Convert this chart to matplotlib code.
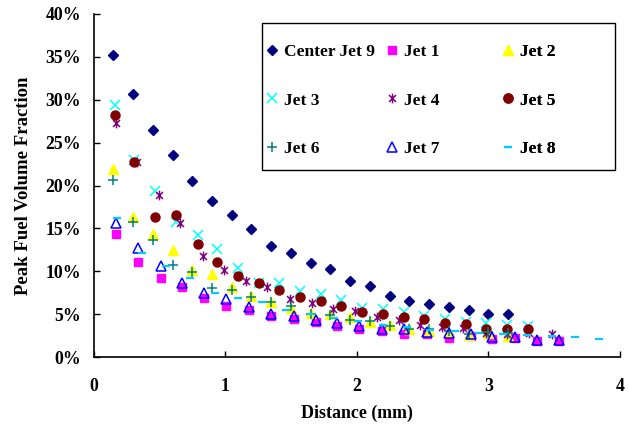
import matplotlib
matplotlib.use("Agg")
import matplotlib.pyplot as plt
from matplotlib.path import Path
from matplotlib.patches import Rectangle
from matplotlib.ticker import PercentFormatter

plt.rcParams['font.family'] = ['Liberation Serif', 'DejaVu Serif']
plt.rcParams['font.weight'] = 'bold'

# distances (mm) per series
x_c9 = [0.15, 0.30, 0.45, 0.60, 0.75, 0.90, 1.05, 1.20, 1.35, 1.50, 1.65,
        1.80, 1.95, 2.10, 2.25, 2.40, 2.55, 2.70, 2.85, 3.00, 3.15]
x_j1 = [0.17, 0.34, 0.51, 0.67, 0.84, 1.01, 1.18, 1.35, 1.52, 1.69, 1.85,
        2.02, 2.19, 2.36, 2.53, 2.70, 2.87, 3.03, 3.20, 3.37, 3.54]
x_j3 = [0.16, 0.31, 0.47, 0.63, 0.79, 0.94, 1.10, 1.26, 1.41, 1.57, 1.73,
        1.88, 2.04, 2.20, 2.36, 2.51, 2.67, 2.83, 2.98, 3.14, 3.30]
x_j4 = [0.17, 0.33, 0.50, 0.66, 0.83, 0.99, 1.16, 1.32, 1.49, 1.66, 1.82,
        1.99, 2.15, 2.32, 2.48, 2.65, 2.81, 2.98, 3.14, 3.31, 3.48]
x_j8 = [0.18, 0.37, 0.55, 0.73, 0.92, 1.10, 1.28, 1.46, 1.65, 1.83, 2.01,
        2.20, 2.38, 2.56, 2.75, 2.93, 3.11, 3.29, 3.48, 3.66, 3.84]

# peak fuel volume fraction (%)
y_c9 = [35.2, 30.7, 26.5, 23.55, 20.55, 18.15, 16.55, 14.9, 13.0, 12.1, 11.0,
        10.25, 8.9, 8.25, 7.15, 6.6, 6.2, 5.9, 5.5, 5.1, 5.1]
y_j1 = [14.4, 11.1, 9.25, 8.15, 6.95, 6.0, 5.5, 4.8, 4.5, 4.15, 3.65,
        3.3, 3.1, 2.7, 2.7, 2.3, 2.45, 2.15, 2.3, 1.95, 1.95]
y_j2 = [21.9, 16.35, 14.35, 12.5, 10.15, 9.65, 8.2, 7.1, 6.45, 5.7, 5.2,
        5.1, 4.65, 4.15, 3.75, 3.35, 3.1, 2.9, 2.6, 2.8, 2.5]
y_j3 = [29.4, 23.0, 19.4, 15.8, 14.2, 12.6, 10.4, 8.7, 8.6, 7.75, 7.35,
        6.65, 5.8, 5.6, 5.25, 4.8, 4.45, 4.15, 3.95, 3.8, 3.6]
y_j4 = [27.3, 22.75, 18.9, 15.6, 11.8, 10.15, 8.9, 8.2, 6.8, 6.3, 5.6,
        5.4, 4.7, 4.4, 3.75, 3.55, 3.45, 2.8, 2.7, 2.8, 2.7]
y_j5 = [28.25, 22.7, 16.35, 16.55, 13.2, 11.1, 9.5, 8.7, 7.8, 7.0, 6.6,
        6.0, 5.25, 5.05, 4.65, 4.45, 3.95, 3.85, 3.35, 3.3, 3.3]
y_j6 = [20.6, 15.8, 13.65, 10.7, 9.9, 8.1, 7.85, 7.0, 6.45, 5.95, 5.1,
        4.9, 4.4, 4.25, 3.7, 3.35, 3.35, 3.1, 2.7, 3.0, 2.85]
y_j7 = [15.6, 12.7, 10.65, 8.6, 7.55, 6.85, 5.9, 5.0, 4.8, 4.4, 3.95,
        3.6, 3.35, 3.35, 3.0, 2.85, 2.75, 2.4, 2.4, 2.0, 2.0]
y_j8 = [16.2, 12.15, 10.6, 9.2, 7.45, 6.95, 6.45, 5.5, 5.0, 4.6, 4.2,
        3.8, 3.5, 3.2, 3.1, 2.85, 2.7, 2.6, 2.5, 2.4, 2.15]

# excel style star: x with a vertical bar
star = Path([(-1, -1), (1, 1), (-1, 1), (1, -1), (0, -1.4), (0, 1.4)],
            [Path.MOVETO, Path.LINETO] * 3)

fig = plt.figure(figsize=(6.29, 4.28), dpi=100)
ax = fig.add_axes([0.1487, 0.165, 0.837, 0.803])

h = {}
h['Center Jet 9'], = ax.plot(x_c9, y_c9, 'D', color='#000080', ms=5.5, ls='none')
h['Jet 1'], = ax.plot(x_j1, y_j1, 's', color='#FF00FF', ms=6, ls='none')
h['Jet 2'], = ax.plot(x_c9, y_j2, '^', color='#FFFF00', ms=7, ls='none')
h['Jet 3'], = ax.plot(x_j3, y_j3, 'x', color='#00FFFF', ms=7, mew=1.1, ls='none')
h['Jet 4'], = ax.plot(x_j4, y_j4, marker=star, color='#800080', ms=7, mew=1.1,
                      fillstyle='none', ls='none')
h['Jet 5'], = ax.plot(x_j3, y_j5, 'o', color='#800000', ms=6.5, ls='none')
h['Jet 6'], = ax.plot(x_c9, y_j6, '+', color='#008080', ms=7.5, mew=1.1, ls='none')
h['Jet 7'], = ax.plot(x_j1, y_j7, '^', mfc='none', mec='#0000FF', ms=6.5, mew=1.1, ls='none')
h['Jet 8'], = ax.plot(x_j8, y_j8, '_', color='#00CCFF', ms=6, mew=1.6, ls='none')

# legend box, then one frameless legend per column so the columns sit evenly
box = Rectangle((0.3195, 0.545), 0.671, 0.427, transform=ax.transAxes,
                facecolor='white', edgecolor='black', lw=1.0, zorder=4, clip_on=False)
ax.add_patch(box)
columns = [['Center Jet 9', 'Jet 3', 'Jet 6'],
           ['Jet 1', 'Jet 4', 'Jet 7'],
           ['Jet 2', 'Jet 5', 'Jet 8']]
col_x = [0.3298, 0.5577, 0.778]
for names, cx in zip(columns, col_x):
    lg = ax.legend([h[k] for k in names], names, loc='upper left',
                   bbox_to_anchor=(cx, 0.913), borderaxespad=0, borderpad=0,
                   frameon=False, prop={'size': 12.5, 'weight': 'bold'},
                   labelspacing=1.88, handlelength=0.6, handletextpad=0.35)
    lg.set_zorder(5)
    ax.add_artist(lg)

ax.set_xlim(0, 4)
ax.set_ylim(0, 40)
ax.set_xticks([0, 1, 2, 3, 4])
ax.set_yticks(range(0, 41, 5))
ax.yaxis.set_major_formatter(PercentFormatter(xmax=100, decimals=0))
ax.tick_params(direction='in', length=4, width=1, labelsize=12.8)
ax.tick_params(axis='x', pad=14.5)
ax.tick_params(axis='y', pad=9)
for s in ['top', 'right']:
    ax.spines[s].set_visible(False)
for s in ['left', 'bottom']:
    ax.spines[s].set_linewidth(1.2)

ax.set_xlabel('Distance (mm)', fontsize=12.9, fontweight='bold', labelpad=7)
ax.set_ylabel('Peak Fuel Volume Fraction', fontsize=13.5, fontweight='bold', labelpad=10)

fig.savefig('out.png', dpi=100)
